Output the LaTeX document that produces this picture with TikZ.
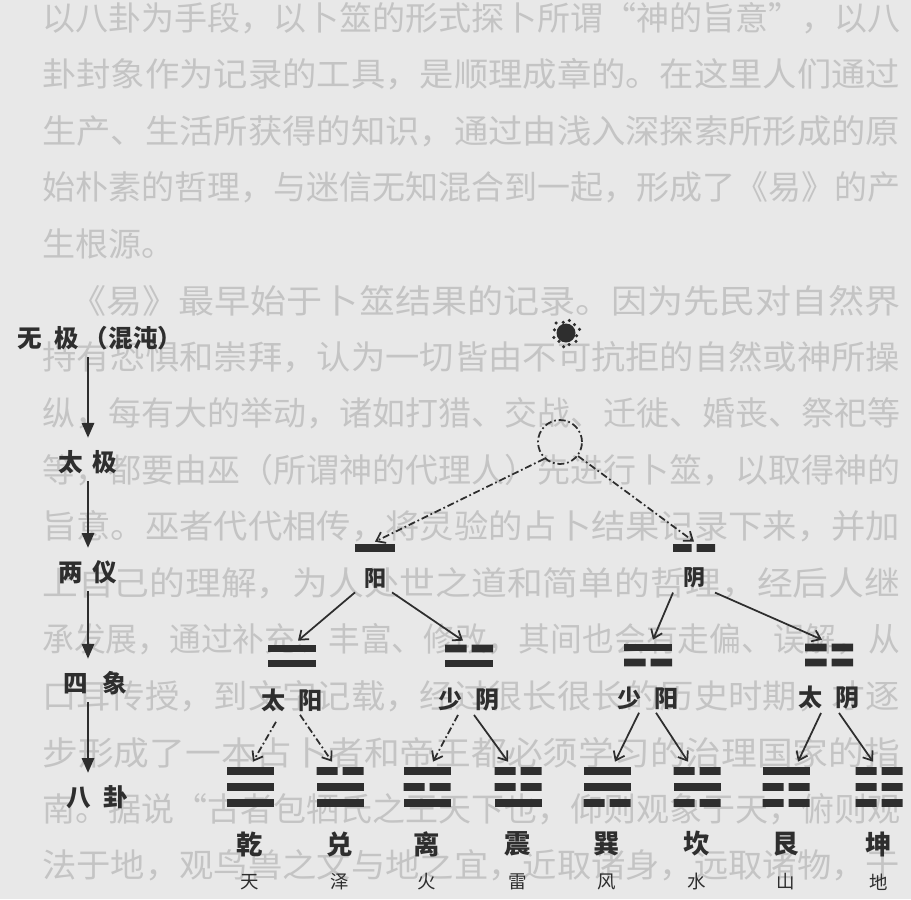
\documentclass[tikz,border=0pt]{standalone}
\usepackage{graphicx}
\usepackage{fontspec}
\newfontfamily\cjk{Noto Sans CJK SC}
\usetikzlibrary{arrows.meta, positioning}

\colorlet{paper}{black!9}
\colorlet{ghost}{black!23}
\colorlet{ink}{black!82}

\tikzset{
  yang/.pic = {\fill[ink] (-#1,-3.8) rectangle (#1,3.8);},
  yin/.pic  = {\fill[ink] (-#1,-3.8) rectangle (-2.5,3.8) (2.5,-3.8) rectangle (#1,3.8);},
}
\newcommand\xiangbars[3]{\path (#1) ++(0,-7.5) pic {#2=24} ++(0,15) pic {#3=24};}
\newcommand\guabars[4]{\path (#1) ++(0,-16) pic {#2=23.5} ++(0,16) pic {#3=23.5} ++(0,16) pic {#4=23.5};}
\newcommand\fullline[2][17.16cm]{\resizebox{#1}{\height}{#2}}

\begin{document}
\begin{tikzpicture}[x=0.02cm, y=-0.02cm, on grid,
  pagetext/.style   = {anchor=west, inner sep=0pt, text=ghost, font=\cjk\fontsize{18.8pt}{19pt}\selectfont},
  stage/.style      = {inner sep=0pt, text=ink, font=\cjk\bfseries\fontsize{14pt}{15pt}\selectfont},
  flow/.style       = {draw=ink, line width=1.7pt, shorten <=0.14cm, shorten >=0.24cm,
                       -{Triangle[length=0.3cm,width=0.24cm]}},
  barbox/.style     = {inner sep=0pt, minimum width=0.94cm, minimum height=#1},
  yilabel/.style    = {inner sep=0pt, text=ink, font=\cjk\bfseries\fontsize{12.5pt}{13pt}\selectfont},
  xianglabel/.style = {inner sep=0pt, text=ink, font=\cjk\bfseries\fontsize{13.7pt}{14pt}\selectfont},
  guaname/.style    = {inner sep=0pt, text=ink, font=\cjk\bfseries\fontsize{15pt}{16pt}\selectfont},
  guaword/.style    = {inner sep=0pt, text=ink, font=\cjk\fontsize{10.5pt}{11pt}\selectfont},
  branch/.style     = {color=ink, line width=1pt, -{Straight Barb[length=0.16cm,width=0.24cm]}},
  dashdot/.style    = {dash pattern=on 4pt off 1.6pt on 1pt off 1.6pt},
]
  \useasboundingbox (0,0) rectangle (911,899);
  \fill[paper] (0,0) rectangle (911,899);

  % faded page text
  \node[pagetext] (p1)  at (42,18)    {\fullline{以八卦为手段，以卜筮的形式探卜所谓“神的旨意”，以八}};
  \node[pagetext] (p2)  at (42,74.5)  {\fullline{卦封象作为记录的工具，是顺理成章的。在这里人们通过}};
  \node[pagetext] (p3)  at (42,131)   {\fullline{生产、生活所获得的知识，通过由浅入深探索所形成的原}};
  \node[pagetext] (p4)  at (42,187.5) {\fullline{始朴素的哲理，与迷信无知混合到一起，形成了《易》的产}};
  \node[pagetext] (p5)  at (42,244)   {生根源。};
  \node[pagetext] (p6)  at (70,300.5) {\fullline[16.6cm]{《易》最早始于卜筮结果的记录。因为先民对自然界}};
  \node[pagetext] (p7)  at (42,357)   {\fullline{持有恐惧和崇拜，认为一切皆由不可抗拒的自然或神所操}};
  \node[pagetext] (p8)  at (42,413.5) {\fullline{纵，每有大的举动，诸如打猎、交战、迁徙、婚丧、祭祀等}};
  \node[pagetext] (p9)  at (42,470)   {\fullline{等，都要由巫（所谓神的代理人）先进行卜筮，以取得神的}};
  \node[pagetext] (p10) at (42,526.5) {\fullline{旨意。巫者代代相传，将灵验的占卜结果记录下来，并加}};
  \node[pagetext] (p11) at (42,583)   {\fullline{上自己的理解，为人处世之道和简单的哲理，经后人继}};
  \node[pagetext] (p12) at (42,639.5) {\fullline{承发展，通过补充、丰富、修改，其间也会有走偏、误解，从}};
  \node[pagetext] (p13) at (42,696)   {\fullline{口耳传授，到文字记载，经过很长很长的历史时期，才逐}};
  \node[pagetext] (p14) at (42,752.5) {\fullline{步形成了一本占卜者和帝王都必须学习的治理国家的指}};
  \node[pagetext] (p15) at (42,809)   {\fullline{南。据说“古者包牺氏之王天下也，仰则观象于天，俯则观}};
  \node[pagetext] (p16) at (42,865.5) {\fullline{法于地，观鸟兽之文与地之宜，近取诸身，远取诸物，于}};

  % left column
  \node[stage] (wuji)    at (100,338) {无\hspace{0.5em}极\hspace{0.2em}（混沌）};
  \node[stage] (taiji)   at (88,462)  {太\hspace{0.4em}极};
  \node[stage] (liangyi) at (88,572)  {两\hspace{0.4em}仪};
  \node[stage] (sixiang) at (95,683)  {四\hspace{0.6em}象};
  \node[stage] (bagua)   at (97,797)  {八\hspace{0.5em}卦};
  \draw[flow] (wuji.south -| taiji)    -- (taiji.north);
  \draw[flow] (taiji.south)            -- (liangyi.north -| taiji);
  \draw[flow] (liangyi.south -| taiji) -- (sixiang.north -| taiji);
  \draw[flow] (sixiang.south -| taiji) -- (bagua.north -| taiji);

  % ink spot and the dashed circle
  \fill[ink] (566,333) circle (0.19cm);
  \foreach \a/\r in {15/11, 40/13, 75/12, 100/14, 130/11, 160/13, 195/12, 225/14, 255/11, 285/13, 315/12, 345/14}
    \fill[ink] (566,333) ++(\a:\r) circle (0.035cm);
  \node[circle, draw=ink, line width=1pt, dashdot, minimum size=0.88cm, inner sep=0pt] (taijiO) at (560,442) {};

  % two forms
  \node[barbox=0.24cm] (yangB) at (375,548) {};
  \node[barbox=0.24cm] (yinB)  at (694,548) {};
  \pic at (yangB) {yang=20};
  \pic at (yinB) {yin=21};
  \node[yilabel, below=0.6cm of yangB] (yangL) {阳};
  \node[yilabel, below=0.6cm of yinB]  (yinL)  {阴};
  \path[branch, dashdot]
    (taijiO.227) edge (yangB.north)
    (taijiO.322) edge (yinB.north);

  % four images
  \node[barbox=0.6cm] (taiyangB)  at (292,656) {};
  \node[barbox=0.6cm] (shaoyinB)  at (469,656) {};
  \node[barbox=0.6cm] (shaoyangB) at (648,655) {};
  \node[barbox=0.6cm] (taiyinB)   at (829,655) {};
  \xiangbars{taiyangB}{yang}{yang}
  \xiangbars{shaoyinB}{yin}{yang}
  \xiangbars{shaoyangB}{yang}{yin}
  \xiangbars{taiyinB}{yin}{yin}
  \node[xianglabel, below=0.88cm of taiyangB]  (taiyangL)  {太\hspace{0.55em}阳};
  \node[xianglabel, below=0.88cm of shaoyinB]  (shaoyinL)  {少\hspace{0.55em}阴};
  \node[xianglabel, below=0.86cm of shaoyangB] (shaoyangL) {少\hspace{0.55em}阳};
  \node[xianglabel, below=0.86cm of taiyinB]   (taiyinL)   {太\hspace{0.55em}阴};
  \path[branch]
    ([xshift=-0.4cm,yshift=-0.08cm]yangL.south) edge ([xshift=0.12cm]taiyangB.north)
    ([xshift=0.34cm,yshift=-0.08cm]yangL.south) edge ([xshift=-0.12cm]shaoyinB.north)
    ([xshift=-0.42cm,yshift=-0.08cm]yinL.south) edge ([xshift=0.1cm]shaoyangB.north)
    ([xshift=0.42cm,yshift=-0.08cm]yinL.south)  edge ([xshift=-0.14cm]taiyinB.north);

  % eight trigrams
  \node[barbox=1cm] (qian) at (250,787) {};
  \node[barbox=1cm] (dui)  at (340,787) {};
  \node[barbox=1cm] (li)   at (427,787) {};
  \node[barbox=1cm] (zhen) at (518,787) {};
  \node[barbox=1cm] (xun)  at (607,787) {};
  \node[barbox=1cm] (kan)  at (697,787) {};
  \node[barbox=1cm] (gen)  at (786,787) {};
  \node[barbox=1cm] (kun)  at (879,787) {};
  \guabars{qian}{yang}{yang}{yang}
  \guabars{dui}{yin}{yang}{yang}
  \guabars{li}{yang}{yin}{yang}
  \guabars{zhen}{yin}{yin}{yang}
  \guabars{xun}{yang}{yang}{yin}
  \guabars{kan}{yin}{yang}{yin}
  \guabars{gen}{yang}{yin}{yin}
  \guabars{kun}{yin}{yin}{yin}
  \path[branch, dashdot]
    ([xshift=-0.32cm,yshift=-0.2cm]taiyangL.south) edge ([xshift=0.06cm]qian.north)
    ([xshift=0.16cm,yshift=-0.06cm]taiyangL.south) edge ([xshift=-0.16cm]dui.north)
    ([xshift=-0.22cm,yshift=-0.06cm]shaoyinL.south) edge ([xshift=0.12cm]li.north);
  \path[branch]
    ([xshift=0.1cm,yshift=-0.06cm]shaoyinL.south)   edge ([xshift=-0.2cm]zhen.north)
    ([xshift=-0.18cm,yshift=-0.06cm]shaoyangL.south) edge ([xshift=0.16cm]xun.north)
    ([xshift=0.16cm,yshift=-0.06cm]shaoyangL.south)  edge ([xshift=-0.18cm]kan.north)
    ([xshift=-0.16cm,yshift=-0.06cm]taiyinL.south)   edge ([xshift=0.24cm]gen.north)
    ([xshift=0.2cm,yshift=-0.06cm]taiyinL.south)     edge ([xshift=-0.12cm]kun.north);

  \node[guaname, below=1.14cm of qian] (qianN) {乾};
  \node[guaname, below=1.14cm of dui]  (duiN)  {兑};
  \node[guaname, below=1.14cm of li]   (liN)   {离};
  \node[guaname, below=1.14cm of zhen] (zhenN) {震};
  \node[guaname, below=1.14cm of xun]  (xunN)  {巽};
  \node[guaname, below=1.14cm of kan]  (kanN)  {坎};
  \node[guaname, below=1.14cm of gen]  (genN)  {艮};
  \node[guaname, below=1.14cm of kun]  (kunN)  {坤};
  \node[guaword, below=0.76cm of qianN] (tian)  {天};
  \node[guaword, below=0.76cm of duiN]  (ze)    {泽};
  \node[guaword, below=0.76cm of liN]   (huo)   {火};
  \node[guaword, below=0.76cm of zhenN] (lei)   {雷};
  \node[guaword, below=0.76cm of xunN]  (feng)  {风};
  \node[guaword, below=0.76cm of kanN]  (shui)  {水};
  \node[guaword, below=0.76cm of genN]  (shan)  {山};
  \node[guaword, below=0.76cm of kunN]  (di)    {地};
\end{tikzpicture}
\end{document}
